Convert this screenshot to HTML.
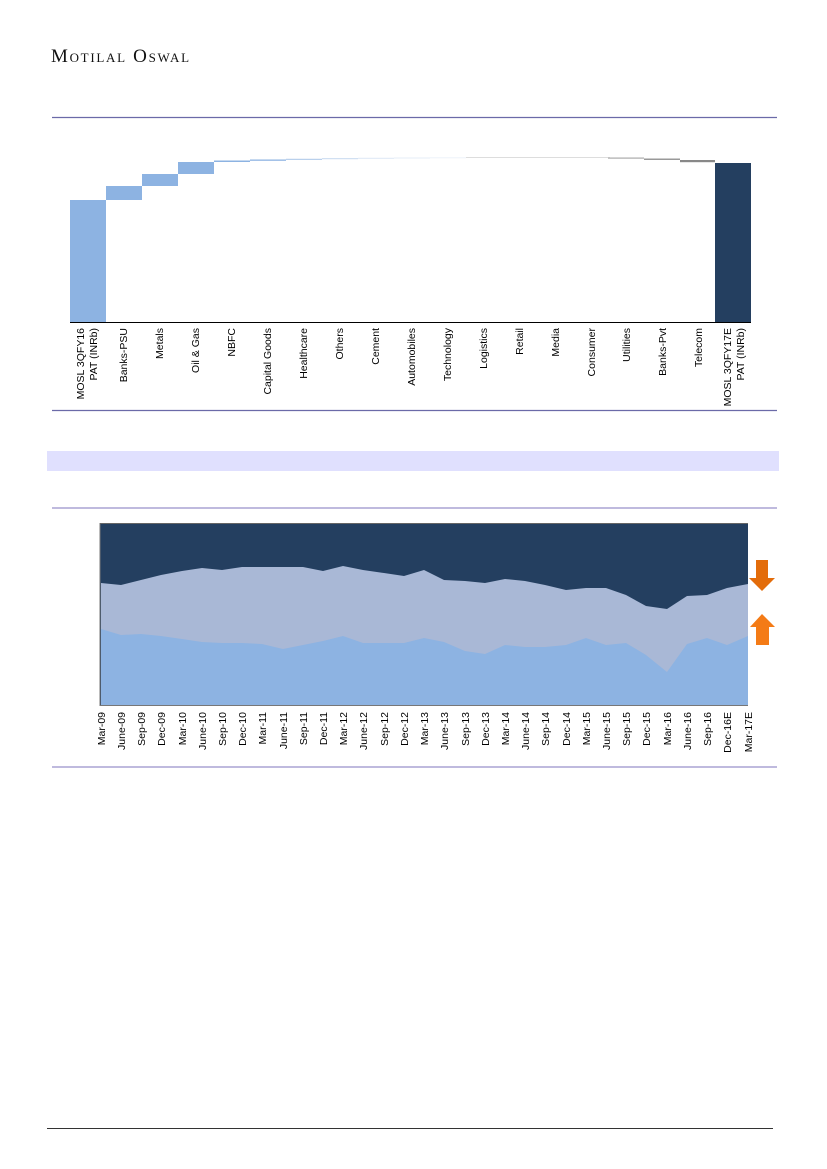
<!DOCTYPE html>
<html><head><meta charset="utf-8"><style>
body{margin:0;background:#fff;width:827px;height:1169px;overflow:hidden;position:relative;font-family:"Liberation Sans",sans-serif}
.logo{position:absolute;left:51px;top:46px;font-family:"Liberation Serif",serif;font-size:19px;letter-spacing:1.7px;color:#111;font-variant:small-caps}
</style></head><body>
<div class="logo">Motilal Oswal</div>
<svg width="827" height="1169" style="position:absolute;left:0;top:0" font-family="Liberation Sans, sans-serif">
<line x1="52" y1="117.5" x2="777" y2="117.5" stroke="#6b6aa8" stroke-width="1.2"/>
<line x1="52" y1="410.5" x2="777" y2="410.5" stroke="#6b6aa8" stroke-width="1.2"/>
<rect x="47" y="451" width="732" height="20" fill="#e0e0fe"/>
<line x1="52" y1="508" x2="777" y2="508" stroke="#aaa3d4" stroke-width="1.5"/>
<line x1="52" y1="767" x2="777" y2="767" stroke="#aaa3d4" stroke-width="1.5"/>
<line x1="47" y1="1128.5" x2="773" y2="1128.5" stroke="#333" stroke-width="1"/>
<g>
<rect x="70" y="200" width="36" height="122" fill="#8db3e2"/>
<rect x="106" y="186" width="36" height="14" fill="#8db3e2"/>
<rect x="142" y="174" width="36" height="12" fill="#8db3e2"/>
<rect x="178" y="162" width="36" height="12" fill="#8db3e2"/>
<rect x="214" y="160.5" width="36" height="1.5" fill="#8db3e2"/>
<rect x="250" y="159.5" width="36" height="1.3" fill="#8db3e2"/>
<rect x="286" y="158.8" width="36" height="1" fill="#a8c4e8"/>
<rect x="322" y="158.2" width="36" height="1" fill="#c6d8ef"/>
<rect x="358" y="157.8" width="36" height="1" fill="#dde8f5"/>
<rect x="394" y="157.5" width="36" height="1" fill="#e6eef7"/>
<rect x="430" y="157.3" width="36" height="1" fill="#edf2f9"/>
<rect x="466" y="157" width="36" height="1" fill="#ddd"/>
<rect x="502" y="157" width="36" height="1" fill="#ddd"/>
<rect x="538" y="157" width="36" height="1" fill="#ddd"/>
<rect x="574" y="157" width="36" height="1" fill="#ddd"/>
<rect x="608" y="157.5" width="36" height="1.2" fill="#aaa"/>
<rect x="644" y="158.5" width="36" height="1.5" fill="#999"/>
<rect x="680" y="160" width="35" height="2.2" fill="#888"/>
<rect x="715" y="163" width="36" height="159" fill="#243f60"/>
<line x1="70" y1="322.5" x2="751" y2="322.5" stroke="#000" stroke-width="1"/>
</g>
<g font-size="10.5" fill="#000" text-anchor="end">
<text transform="translate(84,328) rotate(-90)">MOSL 3QFY16</text>
<text transform="translate(97,328) rotate(-90)">PAT (INRb)</text>
<text transform="translate(127,328) rotate(-90)">Banks-PSU</text>
<text transform="translate(163,328) rotate(-90)">Metals</text>
<text transform="translate(199,328) rotate(-90)">Oil &amp; Gas</text>
<text transform="translate(235,328) rotate(-90)">NBFC</text>
<text transform="translate(271,328) rotate(-90)">Capital Goods</text>
<text transform="translate(307,328) rotate(-90)">Healthcare</text>
<text transform="translate(343,328) rotate(-90)">Others</text>
<text transform="translate(379,328) rotate(-90)">Cement</text>
<text transform="translate(415,328) rotate(-90)">Automobiles</text>
<text transform="translate(451,328) rotate(-90)">Technology</text>
<text transform="translate(487,328) rotate(-90)">Logistics</text>
<text transform="translate(523,328) rotate(-90)">Retail</text>
<text transform="translate(559,328) rotate(-90)">Media</text>
<text transform="translate(595,328) rotate(-90)">Consumer</text>
<text transform="translate(630,328) rotate(-90)">Utilities</text>
<text transform="translate(666,328) rotate(-90)">Banks-Pvt</text>
<text transform="translate(702,328) rotate(-90)">Telecom</text>
<text transform="translate(731,328) rotate(-90)">MOSL 3QFY17E</text>
<text transform="translate(744,328) rotate(-90)">PAT (INRb)</text>
</g>
<rect x="100" y="523" width="648" height="182" fill="#243f60"/>
<polygon fill="#a9b8d6" points="101,583 121,585 141,580 161,575 182,571 202,568 222,570 242,567 262,567 283,567 303,567 323,571 343,566 363,570 384,573 404,576 424,570 444,580 465,581 485,583 505,579 525,581 545,585 566,590 586,588 606,588 626,595 646,606 667,609 687,596 707,595 727,588 748,584 748,705 101,705"/>
<polygon fill="#8db3e2" points="101,629 121,635 141,634 161,636 182,639 202,642 222,643 242,643 262,644 283,649 303,645 323,641 343,636 363,643 384,643 404,643 424,638 444,642 465,651 485,654 505,645 525,647 545,647 566,645 586,638 606,645 626,643 646,655 667,672 687,644 707,638 727,645 748,636 748,705 101,705"/>
<polyline fill="none" stroke="#777" stroke-width="1" points="100,523 100,705.5 748,705.5"/>
<line x1="100" y1="523.5" x2="748" y2="523.5" stroke="#666" stroke-width="1"/>
<polygon fill="#e36c0a" points="756,560 768,560 768,578 775,578 762,591 749,578 756,578"/>
<polygon fill="#f47b16" points="762,614 775,627 769,627 769,645 756,645 756,627 750,627"/>
<g font-size="10.5" fill="#000" text-anchor="end">
<text transform="translate(105,712) rotate(-90)">Mar-09</text>
<text transform="translate(125,712) rotate(-90)">June-09</text>
<text transform="translate(145,712) rotate(-90)">Sep-09</text>
<text transform="translate(165,712) rotate(-90)">Dec-09</text>
<text transform="translate(186,712) rotate(-90)">Mar-10</text>
<text transform="translate(206,712) rotate(-90)">June-10</text>
<text transform="translate(226,712) rotate(-90)">Sep-10</text>
<text transform="translate(246,712) rotate(-90)">Dec-10</text>
<text transform="translate(266,712) rotate(-90)">Mar-11</text>
<text transform="translate(287,712) rotate(-90)">June-11</text>
<text transform="translate(307,712) rotate(-90)">Sep-11</text>
<text transform="translate(327,712) rotate(-90)">Dec-11</text>
<text transform="translate(347,712) rotate(-90)">Mar-12</text>
<text transform="translate(367,712) rotate(-90)">June-12</text>
<text transform="translate(388,712) rotate(-90)">Sep-12</text>
<text transform="translate(408,712) rotate(-90)">Dec-12</text>
<text transform="translate(428,712) rotate(-90)">Mar-13</text>
<text transform="translate(448,712) rotate(-90)">June-13</text>
<text transform="translate(469,712) rotate(-90)">Sep-13</text>
<text transform="translate(489,712) rotate(-90)">Dec-13</text>
<text transform="translate(509,712) rotate(-90)">Mar-14</text>
<text transform="translate(529,712) rotate(-90)">June-14</text>
<text transform="translate(549,712) rotate(-90)">Sep-14</text>
<text transform="translate(570,712) rotate(-90)">Dec-14</text>
<text transform="translate(590,712) rotate(-90)">Mar-15</text>
<text transform="translate(610,712) rotate(-90)">June-15</text>
<text transform="translate(630,712) rotate(-90)">Sep-15</text>
<text transform="translate(650,712) rotate(-90)">Dec-15</text>
<text transform="translate(671,712) rotate(-90)">Mar-16</text>
<text transform="translate(691,712) rotate(-90)">June-16</text>
<text transform="translate(711,712) rotate(-90)">Sep-16</text>
<text transform="translate(731,712) rotate(-90)">Dec-16E</text>
<text transform="translate(752,712) rotate(-90)">Mar-17E</text>
</g>
</svg>
</body></html>
